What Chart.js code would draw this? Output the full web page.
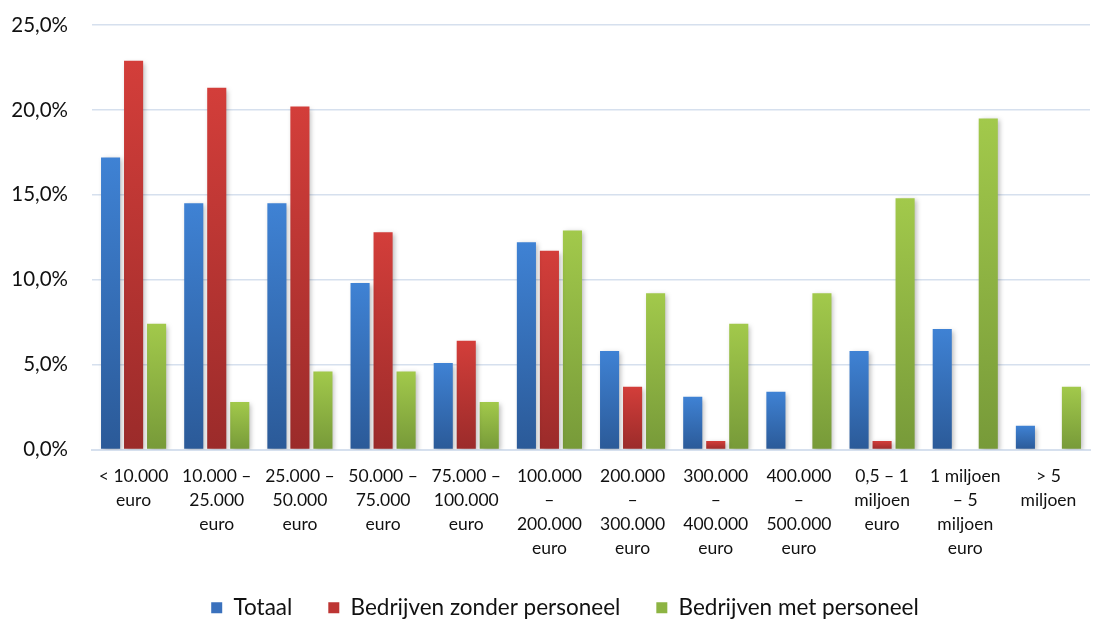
<!DOCTYPE html>
<html>
<head>
<meta charset="utf-8">
<script src="https://cdn.jsdelivr.net/npm/chart.js@4"></script>
<style>
    html, body { margin: 0; padding: 0; background: #fff; }
    #wrap { width: 1094px; height: 619px; }
</style>
</head>
<body>
<div id="wrap"><canvas id="chart"></canvas></div>
<script>
const categories = [
    ["< 10.000", "euro"],
    ["10.000 –", "25.000", "euro"],
    ["25.000 –", "50.000", "euro"],
    ["50.000 –", "75.000", "euro"],
    ["75.000 –", "100.000", "euro"],
    ["100.000", "–", "200.000", "euro"],
    ["200.000", "–", "300.000", "euro"],
    ["300.000", "–", "400.000", "euro"],
    ["400.000", "–", "500.000", "euro"],
    ["0,5 – 1", "miljoen", "euro"],
    ["1 miljoen", "– 5", "miljoen", "euro"],
    ["> 5", "miljoen"]
];
const totaal = [17.2, 14.5, 14.5, 9.8, 5.1, 12.2, 5.8, 3.1, 3.4, 5.8, 7.1, 1.4];
const zonderPersoneel = [22.9, 21.3, 20.2, 12.8, 6.4, 11.7, 3.7, 0.5, 0, 0.5, 0, 0];
const metPersoneel = [7.4, 2.8, 4.6, 4.6, 2.8, 12.9, 9.2, 7.4, 9.2, 14.8, 19.5, 3.7];
const yTicks = [0, 5, 10, 15, 20, 25];

const fontFamily = "Lato, 'Open Sans', sans-serif";
const legendColors = ["#3a71bd", "#bd3533", "#8db443"];

// light at the top of each bar, darker at its base
function barGradient(top, bottom) {
    return (context) => {
        const chart = context.chart;
        const scale = chart.scales.y;
        if (!chart.chartArea || !scale || context.raw == null) return top;
        const yTop = scale.getPixelForValue(context.raw);
        const yBase = scale.getPixelForValue(0);
        if (!isFinite(yTop) || !isFinite(yBase) || yTop === yBase) return top;
        const g = chart.ctx.createLinearGradient(0, yTop, 0, yBase);
        g.addColorStop(0, top);
        g.addColorStop(1, bottom);
        return g;
    };
}

const shadowPlugin = {
    id: "barShadow",
    beforeDatasetsDraw(chart) {
        const ctx = chart.ctx;
        ctx.save();
        ctx.shadowColor = "rgba(0,0,0,0.28)";
        ctx.shadowBlur = 5;
        ctx.shadowOffsetX = 2;
        ctx.shadowOffsetY = 2;
    },
    afterDatasetsDraw(chart) {
        chart.ctx.restore();
    }
};

// the original legend sits a bit right of the canvas centre
const legendShift = {
    id: "legendShift",
    afterLayout(chart) {
        if (chart.legend) chart.legend.left += 40;
    }
};

new Chart(document.getElementById("chart"), {
    type: "bar",
    data: {
        labels: categories,
        datasets: [
            {
                label: "Totaal",
                data: totaal,
                backgroundColor: barGradient("#3f82d4", "#2b5a98")
            },
            {
                label: "Bedrijven zonder personeel",
                data: zonderPersoneel,
                backgroundColor: barGradient("#d33e3a", "#9b2b2a")
            },
            {
                label: "Bedrijven met personeel",
                data: metPersoneel,
                backgroundColor: barGradient("#a2c94b", "#779a39")
            }
        ]
    },
    plugins: [shadowPlugin, legendShift],
    options: {
        responsive: true,
        maintainAspectRatio: false,
        animation: false,
        layout: { padding: { top: 25, right: 4, left: 0, bottom: -10 } },
        datasets: {
            bar: { categoryPercentage: 0.83, barPercentage: 0.83 }
        },
        scales: {
            x: {
                afterFit(scale) { scale.height = 111; },
                grid: { display: false, drawTicks: false },
                border: { color: "#d6e0ee", width: 2 },
                ticks: {
                    color: "#111",
                    font: { family: fontFamily, size: 17.5, lineHeight: 1.37 },
                    padding: 15,
                    maxRotation: 0,
                    autoSkip: false
                }
            },
            y: {
                min: 0,
                max: 25,
                afterFit(scale) {
                    scale.width = 92;
                    scale.paddingTop = 0;
                    scale.paddingBottom = 0;
                },
                afterBuildTicks(scale) {
                    scale.ticks = yTicks.map(v => ({ value: v }));
                },
                grid: { color: "#d6e0ee", lineWidth: 1.5, drawTicks: false },
                border: { display: false },
                ticks: {
                    color: "#111",
                    padding: 24,
                    font: { family: fontFamily, size: 20.5 },
                    callback: (v) => v.toFixed(1).replace(".", ",") + "%"
                }
            }
        },
        plugins: {
            legend: {
                position: "bottom",
                labels: {
                    color: "#111",
                    boxWidth: 11,
                    boxHeight: 11,
                    padding: 36,
                    font: { family: fontFamily, size: 22.5 },
                    generateLabels(chart) {
                        return chart.data.datasets.map((ds, i) => ({
                            text: ds.label,
                            fillStyle: legendColors[i],
                            strokeStyle: legendColors[i],
                            lineWidth: 0,
                            fontColor: "#111",
                            hidden: false,
                            datasetIndex: i
                        }));
                    }
                }
            },
            tooltip: { enabled: false }
        }
    }
});
</script>
</body>
</html>
